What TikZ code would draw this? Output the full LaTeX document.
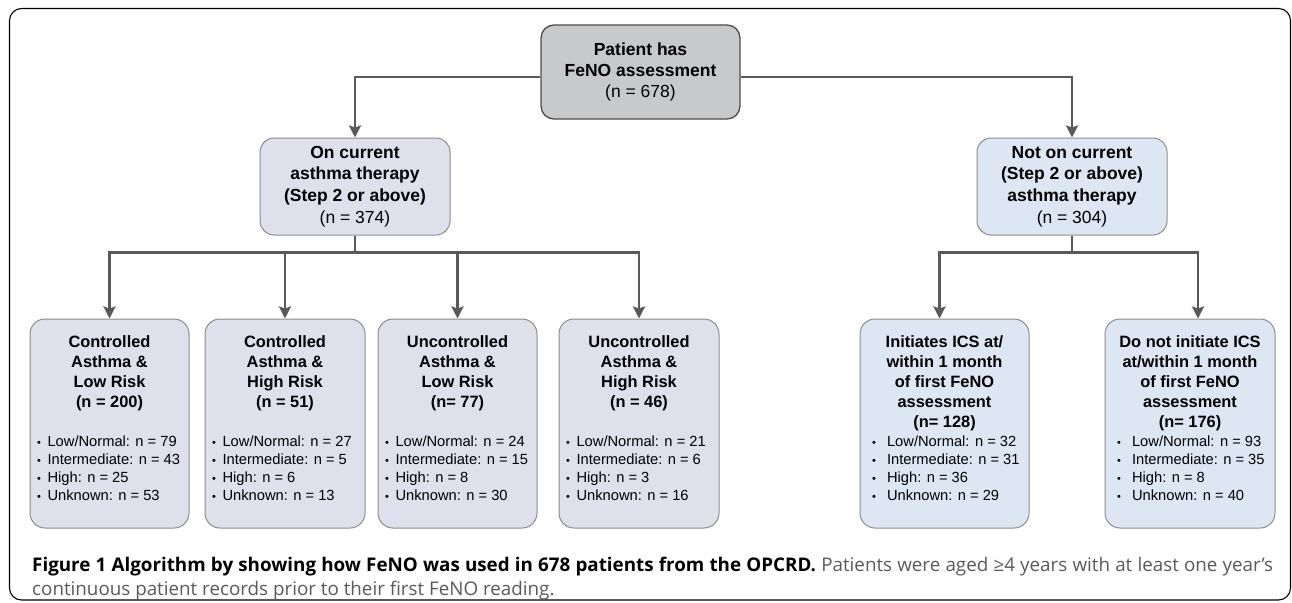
\documentclass[tikz,border=0pt]{standalone}
\usepackage{fontspec}
\setmainfont{Liberation Sans}
\newfontfamily\capfont{Open Sans}
\usetikzlibrary{arrows.meta}

\definecolor{arrowgray}{HTML}{595959}
\definecolor{topfill}{HTML}{C8C9CB}
\definecolor{topedge}{HTML}{4D4D4D}
\definecolor{onfill}{HTML}{E0E0ED}
\definecolor{offfill}{HTML}{DDE7F4}
\definecolor{boxedge}{HTML}{8C8C8C}
\definecolor{capgray}{HTML}{58595B}

% small bullet, optional gap before the text
\newcommand\itm[1][6.5pt]{{\fontsize{11}{11}\selectfont\textbullet}\hspace{#1}}

\begin{document}
\begin{tikzpicture}[x=1pt,y=-1pt,
    flow/.style={draw=arrowgray,line width=2.8pt,-{Stealth[length=12pt,width=12pt,inset=2pt]}},
    joint/.style={draw=arrowgray,line width=2.8pt},
    topbox/.style={draw=topedge,fill=topfill,line width=1.3pt,rounded corners=13pt,
        minimum width=199pt,minimum height=94pt,align=center,inner sep=0pt,
        font=\fontsize{17.5}{21}\selectfont},
    midbox/.style={draw=boxedge,line width=1pt,rounded corners=14pt,
        minimum width=190pt,minimum height=97pt,align=center,inner sep=0pt,
        font=\fontsize{17.5}{21.7}\selectfont},
    lowbox/.style={draw=boxedge,line width=1pt,rounded corners=15pt,minimum height=209pt},
    title/.style={align=center,inner sep=0pt,font=\fontsize{16.4}{20}\selectfont\bfseries},
    list/.style={align=left,inner sep=0pt,anchor=west,font=\fontsize{14.7}{18}\selectfont}]

    \useasboundingbox (0,0) rectangle (1292,602);
    \draw[black,line width=1.1pt,rounded corners=12pt] (9.5,8.5) rectangle (1290.5,600);

    % first split
    \node[topbox] (feno) at (640.5,72) {\textbf{Patient has}\\\textbf{FeNO assessment}\\(n = 678)};
    \node[midbox,fill=onfill] (onth) at (355,186.5)
        {\textbf{On current}\\\textbf{asthma therapy}\\\textbf{(Step 2 or above)}\\(n = 374)};
    \node[midbox,fill=offfill] (offth) at (1072,186.5)
        {\textbf{Not on current}\\\textbf{(Step 2 or above)}\\\textbf{asthma therapy}\\(n = 304)};

    \draw[flow] ([yshift=-5pt]feno.west) -| (onth.north);
    \draw[flow] ([yshift=-5pt]feno.east) -| (offth.north);

    % on therapy
    \node[lowbox,fill=onfill,minimum width=159pt] (lowc) at (109.5,423.5) {};
    \node[lowbox,fill=onfill,minimum width=160pt] (highc) at (285,423.5) {};
    \node[lowbox,fill=onfill,minimum width=159pt] (lowu) at (457.5,423.5) {};
    \node[lowbox,fill=onfill,minimum width=160pt] (highu) at (639,423.5) {};

    \node[title] (lowct) at (109.5,373.5) {Controlled\\Asthma \&\\Low Risk\\(n = 200)};
    \node[title] (highct) at (285,373.5) {Controlled\\Asthma \&\\High Risk\\(n = 51)};
    \node[title] (lowut) at (457.5,373.5) {Uncontrolled\\Asthma \&\\Low Risk\\(n= 77)};
    \node[title] (highut) at (639,373.5) {Uncontrolled\\Asthma \&\\High Risk\\(n = 46)};

    \node[list] (lowcl) at (37,468.5) {\itm Low/Normal: n = 79\\\itm Intermediate: n = 43\\\itm High: n = 25\\\itm Unknown: n = 53};
    \node[list] (highcl) at (212,468.5) {\itm Low/Normal: n = 27\\\itm Intermediate: n = 5\\\itm High: n = 6\\\itm Unknown: n = 13};
    \node[list] (lowul) at (385,468.5) {\itm Low/Normal: n = 24\\\itm Intermediate: n = 15\\\itm High: n = 8\\\itm Unknown: n = 30};
    \node[list] (highul) at (566,468.5) {\itm Low/Normal: n = 21\\\itm Intermediate: n = 6\\\itm High: n = 3\\\itm Unknown: n = 16};

    \coordinate (onsplit) at ([yshift=-17pt]onth.south);
    \draw[joint] (onth.south) -- (onsplit);
    \foreach \b in {lowc,highc,lowu,highu}
        \draw[flow] (onsplit) -| (\b.north);

    % not on therapy
    \node[lowbox,fill=offfill,minimum width=169pt] (ics) at (944.5,423.5) {};
    \node[lowbox,fill=offfill,minimum width=170pt] (noics) at (1190,423.5) {};

    \node[title] (icst) at (944.5,383.5) {Initiates ICS at/\\within 1 month\\of first FeNO\\assessment\\(n= 128)};
    \node[title] (noicst) at (1190,383.5) {Do not initiate ICS\\at/within 1 month\\of first FeNO\\assessment\\(n= 176)};

    \node[list] (icsl) at (872,468.5) {\itm[11pt]Low/Normal: n = 32\\\itm[11pt]Intermediate: n = 31\\\itm[11pt]High: n = 36\\\itm[11pt]Unknown: n = 29};
    \node[list] (noicsl) at (1117,468.5) {\itm[11pt]Low/Normal: n = 93\\\itm[11pt]Intermediate: n = 35\\\itm[11pt]High: n = 8\\\itm[11pt]Unknown: n = 40};

    \coordinate (offsplit) at ([yshift=-17pt]offth.south);
    \draw[joint] (offth.south) -- (offsplit);
    \draw[flow] (offsplit) -| ([xshift=-5pt]ics.north);
    \draw[flow] (offsplit) -| ([xshift=8pt]noics.north);

    % caption
    \node[anchor=north west,inner sep=0pt,text width=1241pt,align=justify,
        font=\capfont\fontsize{18.8}{24}\selectfont] (cap) at (32,557)
        {{\bfseries Figure 1 Algorithm by showing how FeNO was used in 678 patients from the OPCRD.}
        {\color{capgray}Patients were aged ≥4 years with at least one year’s\linebreak
        continuous patient records prior to their first FeNO reading.}};
\end{tikzpicture}
\end{document}
